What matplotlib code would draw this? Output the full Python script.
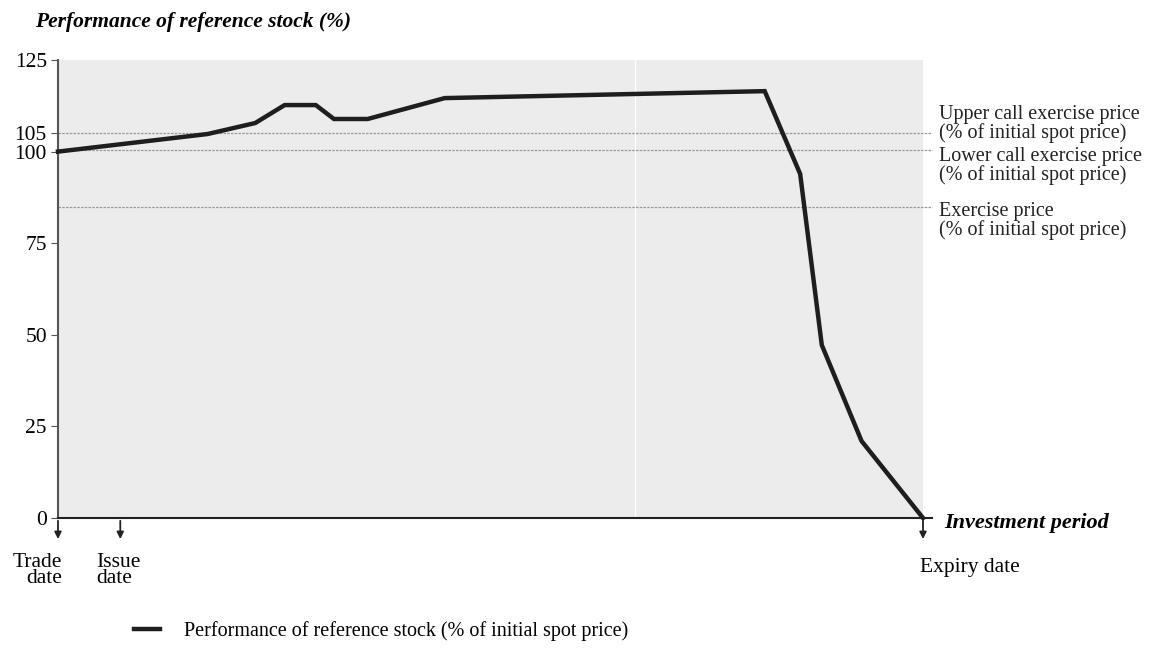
import matplotlib.pyplot as plt

# data (x: % of investment period, y: % of initial spot)
period = [0, 17.3, 22.8, 26.2, 29.8, 31.9, 35.8, 44.7, 81.7, 85.8, 88.3, 92.9, 100]
performance = [100, 104.8, 107.8, 112.7, 112.7, 108.9, 108.9, 114.6, 116.5, 93.9, 47.2, 21.0, 0]

levels = [105, 100.5, 85]
level_labels = ['Upper call exercise price\n(% of initial spot price)',
                'Lower call exercise price\n(% of initial spot price)',
                'Exercise price\n(% of initial spot price)']
level_label_y = [107.6, 96.0, 81.0]

y_ticks = [0, 25, 50, 75, 100, 105, 125]
date_x = [0, 7.2, 100]
date_labels = ['Trade\ndate', 'Issue\ndate', 'Expiry date']

plt.rcParams['font.family'] = ['Liberation Serif', 'DejaVu Serif']

fig = plt.figure(figsize=(11.56, 6.51), dpi=100)
ax = fig.add_axes([58 / 1156, 1 - 518 / 651, 865 / 1156, 458 / 651])
ax.set_facecolor('#ececec')
ax.set_xlim(0, 100)
ax.set_ylim(0, 125)

# faint white divider in the background
ax.axvline(66.7, color='white', lw=1, zorder=0)

# reference levels
for lv, lab, ly in zip(levels, level_labels, level_label_y):
    ax.plot([0, 101], [lv, lv], color='#999999', lw=0.9, ls=(0, (2, 1)), clip_on=False, zorder=1)
    ax.text(101.9, ly, lab, fontsize=14.5, va='center', ha='left', linespacing=0.92, color='#222222')

ax.plot(period, performance, color='#1e1e1e', lw=3.2, solid_joinstyle='miter', clip_on=False,
        zorder=3, label='Performance of reference stock (% of initial spot price)')

for s in ['top', 'right']:
    ax.spines[s].set_visible(False)
ax.spines['left'].set_color('#555555')
ax.spines['left'].set_linewidth(1.5)
ax.spines['bottom'].set_color('#222222')
ax.spines['bottom'].set_linewidth(1.5)
ax.spines['bottom'].set_bounds(0, 101)

ax.set_yticks(y_ticks)
ax.set_yticklabels([str(t) for t in y_ticks], fontsize=15.5)
ax.tick_params(axis='y', length=5, color='#555555', pad=3)
ax.set_xticks([])

# date arrows below the axis
for dx in date_x:
    ax.annotate('', xy=(dx, -6.5), xytext=(dx, 0), annotation_clip=False,
                arrowprops=dict(arrowstyle='-|>', color='#222222', lw=1.3, mutation_scale=10))

ax.text(0.5, -9.5, date_labels[0], ha='right', va='top', fontsize=15.5, linespacing=0.8)
ax.text(4.4, -9.5, date_labels[1], ha='left', va='top', fontsize=15.5, linespacing=0.8)
ax.text(99.7, -11.0, date_labels[2], ha='left', va='top', fontsize=15.5)

ax.text(102.5, -1.3, 'Investment period', ha='left', va='center', fontsize=16,
        fontweight='bold', fontstyle='italic')
fig.text(35 / 1156, 1 - 22 / 651, 'Performance of reference stock (%)', ha='left', va='center',
         fontsize=15.5, fontweight='bold', fontstyle='italic')

fig.legend(loc='center left', bbox_to_anchor=(116 / 1156, 1 - 631 / 651), frameon=False,
           fontsize=14.5, handlelength=1.3, handletextpad=1.2)

fig.savefig('out.png', dpi=100)
